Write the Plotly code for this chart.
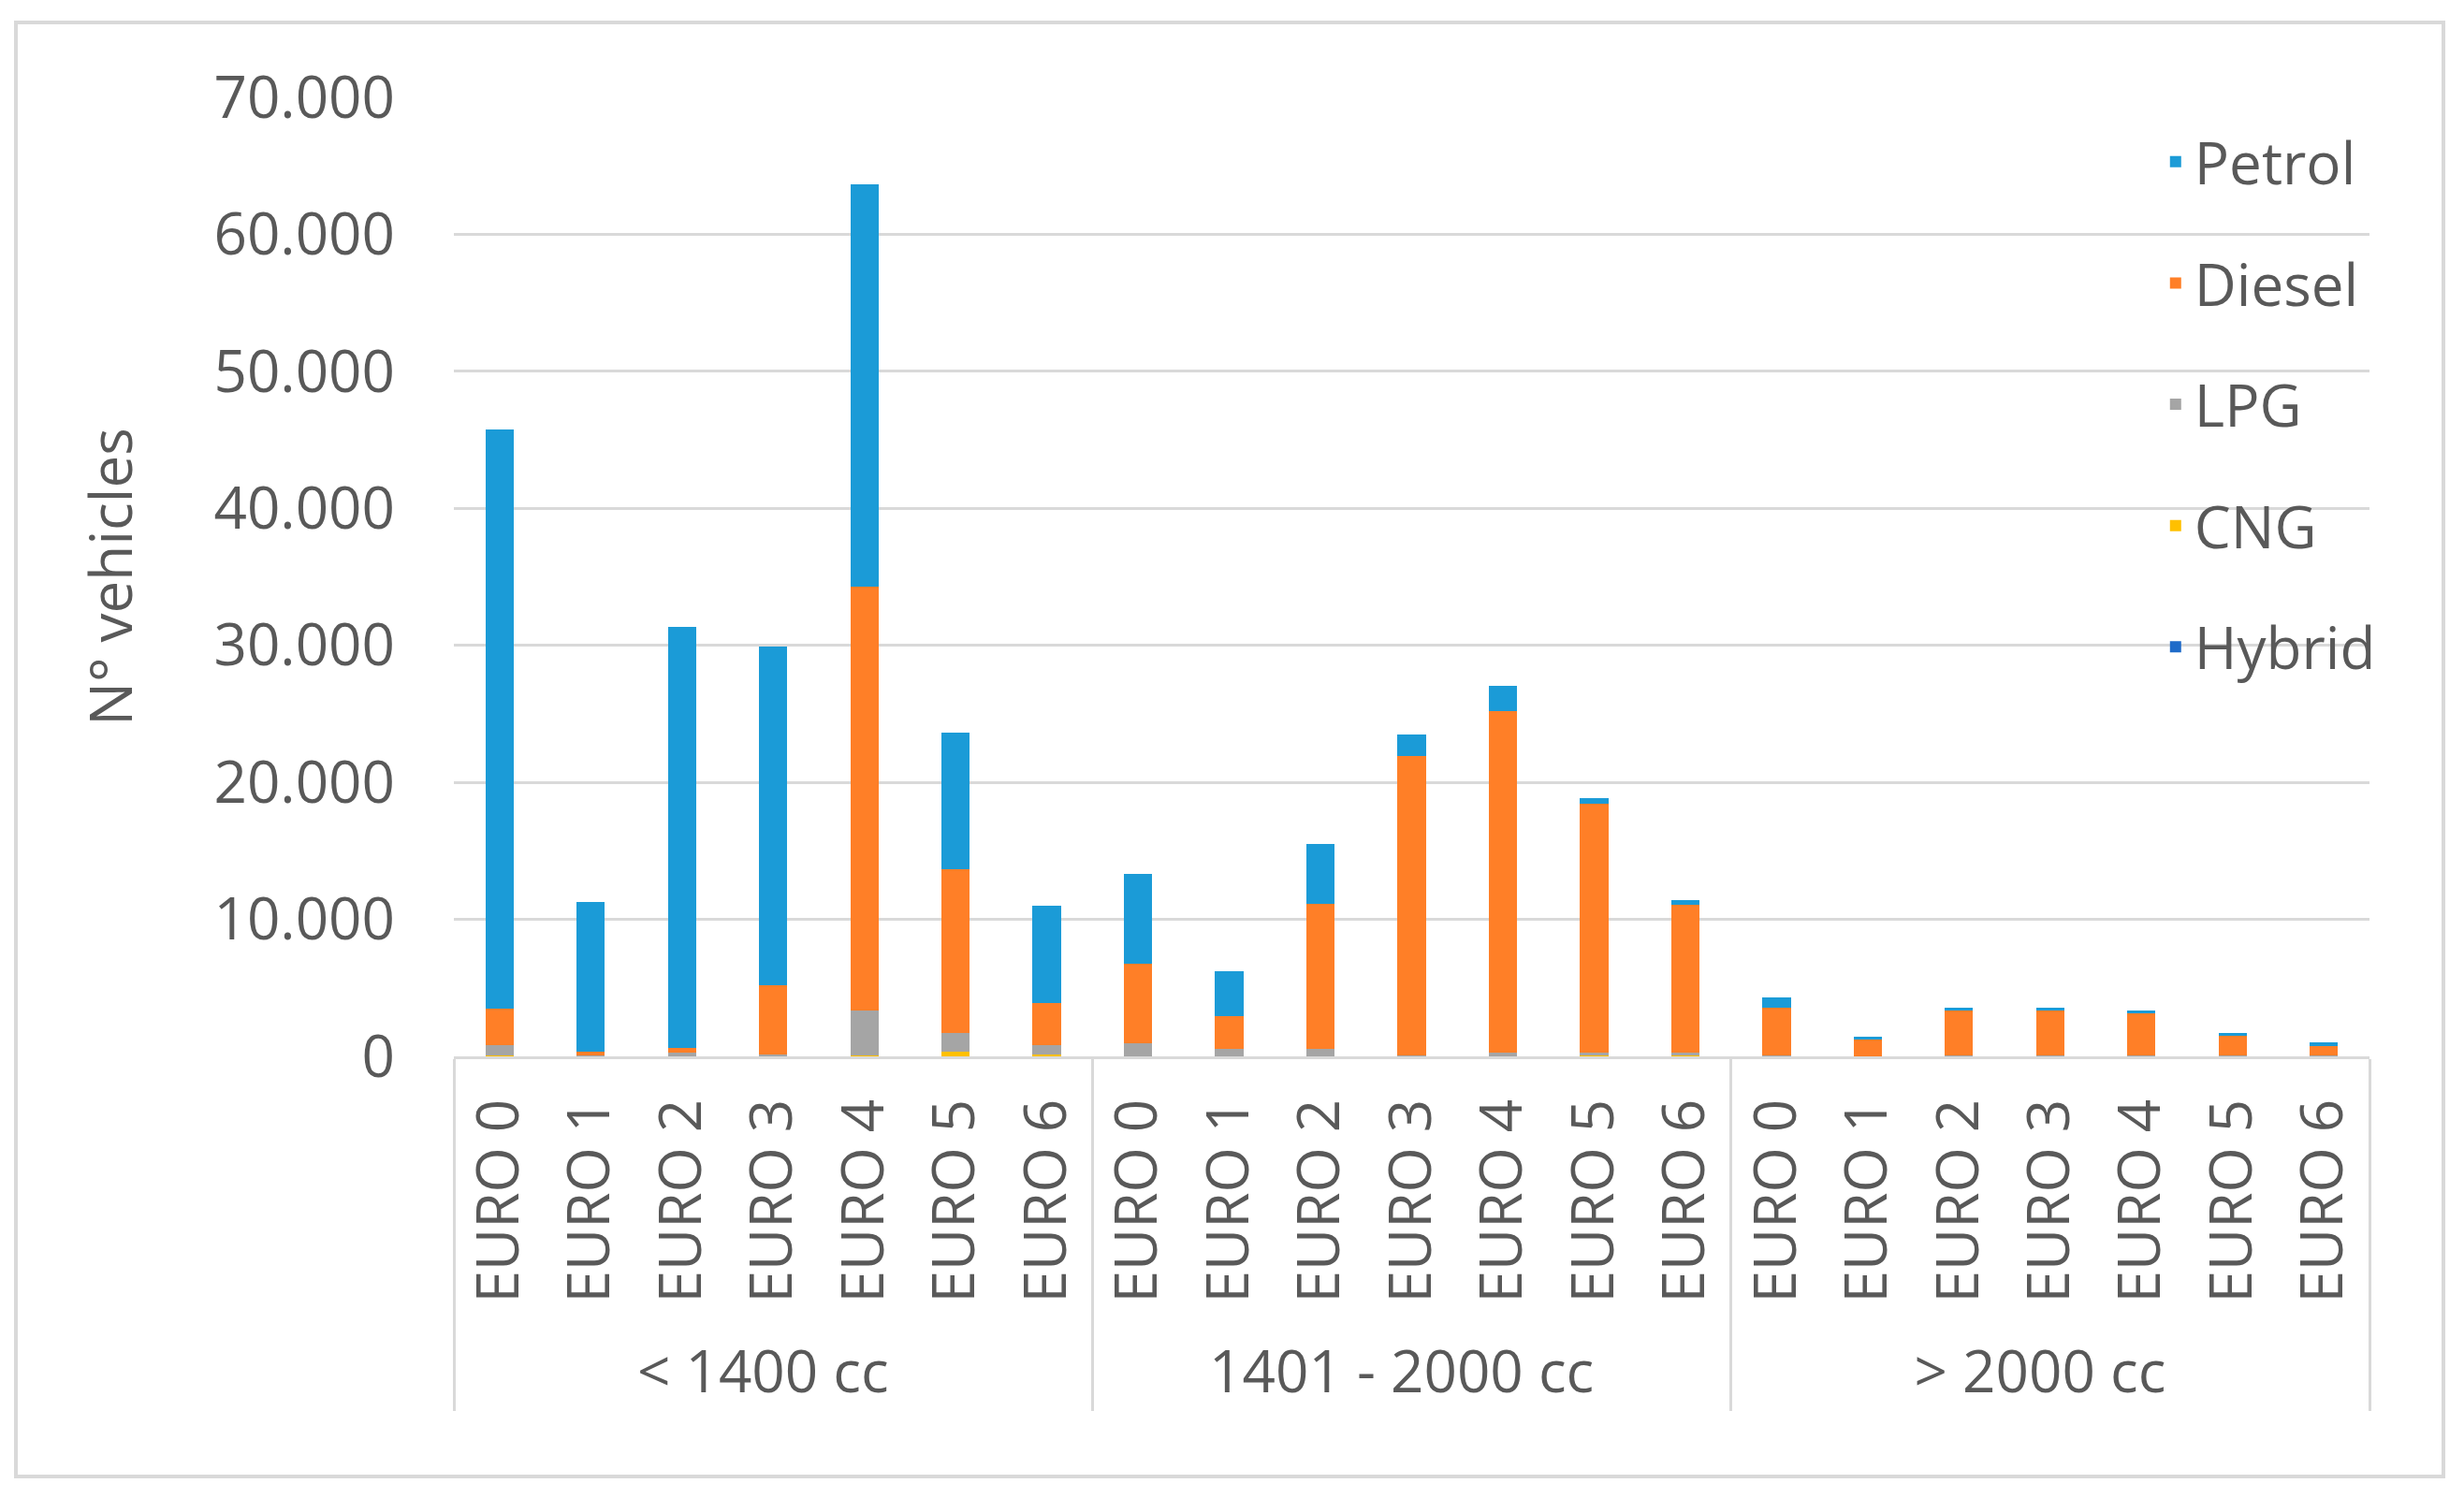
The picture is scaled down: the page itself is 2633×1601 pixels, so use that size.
import plotly.graph_objects as go

# ---- data -------------------------------------------------------------
groups = ["< 1400 cc", "1401 - 2000 cc", "> 2000 cc"]
euro = ["EURO 0", "EURO 1", "EURO 2", "EURO 3", "EURO 4", "EURO 5", "EURO 6"]

# values per (group, euro class), group-major order
petrol = [42250, 10900, 30700, 24750, 29400, 10000, 7100,
          6550, 3250, 4400, 1600, 1800, 400, 300,
          750, 200, 250, 250, 200, 220, 230]
diesel = [2700, 300, 350, 5050, 30900, 11900, 3100,
          5800, 2400, 10550, 21850, 24950, 18200, 10800,
          3500, 1200, 3300, 3300, 3100, 1450, 730]
lpg = [750, 50, 250, 100, 3300, 1400, 700,
       950, 550, 550, 50, 250, 200, 200,
       50, 20, 30, 30, 30, 20, 20]
cng = [50, 10, 20, 20, 60, 300, 60,
       20, 10, 10, 10, 20, 30, 30,
       5, 5, 5, 5, 5, 5, 5]
hybrid = [0, 0, 0, 0, 10, 30, 60,
          0, 0, 0, 0, 10, 20, 50,
          0, 0, 0, 0, 5, 10, 20]

# stacking order bottom -> top
series_names = ["Hybrid", "CNG", "LPG", "Diesel", "Petrol"]
series_values = [hybrid, cng, lpg, diesel, petrol]
series_colors = ["#1F6BC9", "#FFC000", "#A5A5A5", "#FF7F27", "#1B9BD7"]
legend_order = ["Petrol", "Diesel", "LPG", "CNG", "Hybrid"]

y_ticks = [0, 10000, 20000, 30000, 40000, 50000, 60000, 70000]

# ---- figure -----------------------------------------------------------
x_outer = [g for g in groups for _ in euro]
x_inner = [e for _ in groups for e in euro]

FONT = "Open Sans"
TXT = "#595959"
GRID = "#D9D9D9"
FS = 62

fig = go.Figure()
for name, vals, col in zip(series_names, series_values, series_colors):
    fig.add_trace(go.Bar(
        x=[x_outer, x_inner], y=vals, name=name,
        marker=dict(color=col, line=dict(width=0)),
        legendgroup=name,
        legendrank=legend_order.index(name) + 1,
    ))

W, H = 2633, 1601
L, R, T, B = 485, 101, 104, 472

fig.update_layout(
    width=W, height=H,
    margin=dict(l=L, r=R, t=T, b=B, pad=0),
    barmode="stack", bargap=0.69,
    paper_bgcolor="white", plot_bgcolor="white",
    separators=",.",
    font=dict(family=FONT, size=FS, color=TXT),
    legend=dict(
        x=0.889, xanchor="left", y=0.9785, yanchor="top",
        bgcolor="rgba(0,0,0,0)", traceorder="grouped",
        tracegroupgap=46, font=dict(size=FS, color=TXT, family=FONT),
    ),
    showlegend=True,
)

fig.update_xaxes(
    type="multicategory", tickangle=-90,
    showdividers=True, dividercolor=GRID, dividerwidth=3,
    showline=True, linecolor=GRID, linewidth=3,
    showgrid=False, ticks="", ticklabelstandoff=18,
    tickfont=dict(size=FS, color=TXT, family=FONT),
)
fig.update_yaxes(
    range=[0, 70000], tickvals=y_ticks, tickformat=",d",
    showgrid=True, gridcolor=GRID, gridwidth=3,
    zeroline=False, showline=False, ticks="",
    ticklabelstandoff=62,
    tickfont=dict(size=FS, color=TXT, family=FONT),
    title=dict(text="N° vehicles", standoff=66,
               font=dict(size=FS, color=TXT, family=FONT)),
)

# outer chart border (Excel chart area)
pw, ph = W - L - R, H - T - B
fig.add_shape(type="rect", xref="paper", yref="paper",
              x0=(17 - L) / pw, x1=(2611 - L) / pw,
              y0=(H - B - 1578) / ph, y1=(H - B - 24) / ph,
              line=dict(color=GRID, width=4), fillcolor="rgba(0,0,0,0)",
              layer="below")

fig.write_html("out.html",
               config={"displayModeBar": False},
               post_script="document.body.style.margin='0';document.body.style.overflow='hidden';")
